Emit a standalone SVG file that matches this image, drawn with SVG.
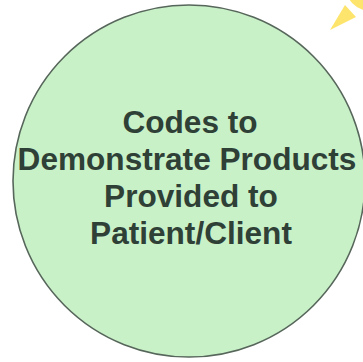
<svg xmlns="http://www.w3.org/2000/svg" width="363" height="362" viewBox="0 0 363 362">
  <style>
    .bubble { fill: #c9f1c8; stroke: #56665a; stroke-width: 1.6; }
    .label { font-family: "Liberation Sans", Arial, sans-serif; font-weight: bold; font-size: 31.6px; fill: #2f4036; text-anchor: middle; }
    .accent { fill: #fde46c; }
  </style>
  <rect width="363" height="362" fill="#ffffff"/>
  <!-- yellow accent in the corner -->
  <g id="accent">
    <circle class="accent" cx="371" cy="-15" r="26"/>
    <polygon class="accent" points="330,30 345,5 356,17"/>
  </g>
  <g id="node-codes">
    <circle class="bubble" cx="189" cy="181" r="176"/>
    <text class="label" x="190" y="133">Codes to</text>
    <text class="label" x="187" y="170">Demonstrate Products</text>
    <text class="label" x="191" y="207">Provided to</text>
    <text class="label" x="191" y="244">Patient/Client</text>
  </g>
  <g id="connectors"/>
</svg>
